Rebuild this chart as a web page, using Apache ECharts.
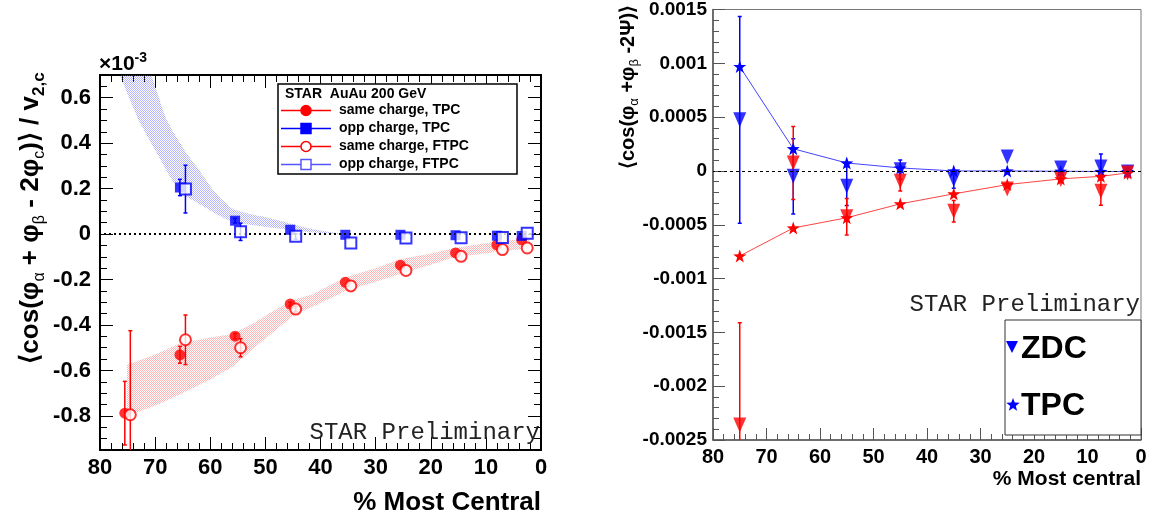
<!DOCTYPE html>
<html>
<head>
<meta charset="utf-8">
<script src="https://cdn.jsdelivr.net/npm/echarts@6/dist/echarts.min.js"></script>
<style>
html, body { margin: 0; padding: 0; background: #fff; }
#chart { width: 1153px; height: 523px; }
</style>
</head>
<body>
<div id="chart"></div>
<script>
// ---- left panel: <cos(phi_a + phi_b - 2 phi_c)> / v2,c  (x1e-3) ----
var pctTPC = [75.5, 65.5, 55.5, 45.5, 35.5, 25.5, 15.5, 8, 3.5];
var pctFTPC = [74.5, 64.5, 54.5, 44.5, 34.5, 24.5, 14.5, 7, 2.5];
var sameTPC = [-0.788, -0.531, -0.449, -0.308, -0.212, -0.137, -0.083, -0.047, -0.025];
var sameTPCErr = [0.14, 0.037, 0.012, 0.008, 0, 0, 0, 0, 0];
var oppTPC = [null, 0.205, 0.059, 0.019, -0.003, -0.003, -0.005, -0.007, -0.008];
var oppTPCErr = [null, 0.036, 0.01, 0, 0, 0, 0, 0, 0];
var sameFTPC = [-0.795, -0.465, -0.5, -0.33, -0.228, -0.16, -0.098, -0.068, -0.061];
var sameFTPCErr = [0.37, 0.109, 0.04, 0.012, 0, 0, 0, 0, 0];
var oppFTPC = [null, 0.198, 0.01, -0.01, -0.039, -0.017, -0.016, -0.015, 0.004];
var oppFTPCErr = [null, 0.105, 0.038, 0.012, 0, 0, 0, 0, 0];

// systematic bands
var redBandX = [75.1, 70, 65.7, 60, 56, 52, 48, 45, 41.4, 35.5, 30, 25.8, 20, 15.5, 10, 7.9, 2];
var redBandHi = [-0.575, -0.53, -0.482, -0.455, -0.44, -0.39, -0.33, -0.29, -0.265, -0.19, -0.15, -0.112, -0.085, -0.06, -0.04, -0.032, -0.02];
var redBandLo = [-0.8, -0.755, -0.708, -0.64, -0.585, -0.5, -0.42, -0.36, -0.32, -0.25, -0.21, -0.178, -0.135, -0.1, -0.085, -0.076, -0.065];
var blueBandHiX = [71.3, 70.6, 67.8, 64.2, 62, 59, 56, 53, 50.5, 46, 42, 38, 35];
var blueBandHi = [0.75, 0.695, 0.498, 0.353, 0.28, 0.18, 0.113, 0.09, 0.077, 0.05, 0.025, 0.008, 0.0];
var blueBandLoX = [77, 76.3, 72.9, 69.6, 67, 65, 62.5, 59, 56, 53, 50.5, 46, 42, 38, 35];
var blueBandLo = [0.75, 0.695, 0.498, 0.353, 0.24, 0.175, 0.14, 0.09, 0.055, 0.042, 0.033, 0.02, 0.008, 0.002, 0.0];

var leftYTicks = [-0.8, -0.6, -0.4, -0.2, 0, 0.2, 0.4, 0.6];

// ---- right panel: <cos(phi_a + phi_b - 2 Psi)> ----
var pctR = [75, 65, 55, 45, 35, 25, 15, 7.5, 2.5];
var tpcOpp = [0.00097, 0.000206, 0.000074, 0.000028, 0.0, 0.0, -0.000003, -0.000005, -0.000005];
var tpcSame = [-0.00079, -0.00053, -0.000435, -0.000306, -0.000213, -0.000127, -0.000074, -0.00005, -0.000019];
var zdcOpp = [0.000475, -0.00005, -0.000142, 0.000012, -0.00008, 0.00013, 0.000028, 0.000037, -0.00001];
var zdcOppErr = [0.00096, 0.00035, 0.00018, 0.00009, 0.00008, 0, 0, 0.00012, 0];
var zdcSame = [-0.00236, 0.000074, -0.000426, -0.000096, -0.000374, -0.000167, -0.00008, -0.000189, -0.00002];
var zdcSameErr = [0.00095, 0.00034, 0.00017, 0.00009, 0.0001, 0, 0, 0.00013, 0];

var rightYTicks = [-0.0025, -0.002, -0.0015, -0.001, -0.0005, 0, 0.0005, 0.001, 0.0015];

var SANS = '"Liberation Sans", Arial, sans-serif';
var MONO = '"Liberation Mono", "Courier New", monospace';
var RED = '#ff0000';
var BLUE = '#0000ff';
var STAR = 'path://M0,-10 L2.35,-3.24 L9.51,-3.09 L3.8,1.24 L5.88,8.09 L0,4 L-5.88,8.09 L-3.8,1.24 L-9.51,-3.09 L-2.35,-3.24 Z';

function pairs(xs, ys) {
    var out = [];
    xs.forEach(function (x, i) {
        if (ys[i] != null) out.push([x, ys[i]]);
    });
    return out;
}

function minorValues(lo, hi, step, majors) {
    var out = [];
    var n = Math.round((hi - lo) / step);
    for (var i = 0; i <= n; i++) {
        var v = +(lo + i * step).toFixed(6);
        if (majors.indexOf(v) < 0) out.push(v);
    }
    return out;
}

// fine zigzag hatching like the ROOT fill style
function hatch(color) {
    var c = document.createElement('canvas');
    c.width = 4;
    c.height = 4;
    var g = c.getContext('2d');
    g.fillStyle = color;
    g.fillRect(0, 0, 1, 1);
    g.fillRect(1, 1, 1, 1);
    g.fillRect(2, 0, 1, 1);
    g.fillRect(3, 1, 1, 1);
    g.fillRect(0, 2, 1, 1);
    g.fillRect(1, 3, 1, 1);
    g.fillRect(2, 2, 1, 1);
    g.fillRect(3, 3, 1, 1);
    return { image: c, repeat: 'repeat' };
}

function errorSeries(xs, ys, errs, color, xi, yi, cap) {
    var data = [];
    xs.forEach(function (x, i) {
        if (ys[i] != null && errs[i]) data.push([x, ys[i] - errs[i], ys[i] + errs[i]]);
    });
    return {
        type: 'custom',
        xAxisIndex: xi,
        yAxisIndex: yi,
        clip: true,
        silent: true,
        z: 3,
        encode: { x: 0, y: [1, 2] },
        data: data,
        renderItem: function (params, api) {
            var lo = api.coord([api.value(0), api.value(1)]);
            var hi = api.coord([api.value(0), api.value(2)]);
            var st = { stroke: color, lineWidth: 1.5 };
            return {
                type: 'group',
                children: [
                    { type: 'line', shape: { x1: lo[0], y1: lo[1], x2: hi[0], y2: hi[1] }, style: st },
                    { type: 'line', shape: { x1: lo[0] - cap, y1: lo[1], x2: lo[0] + cap, y2: lo[1] }, style: st },
                    { type: 'line', shape: { x1: hi[0] - cap, y1: hi[1], x2: hi[0] + cap, y2: hi[1] }, style: st }
                ]
            };
        }
    };
}

function bandSeries(hiX, hiY, loX, loY, fill, smooth) {
    return {
        type: 'custom',
        xAxisIndex: 0,
        yAxisIndex: 0,
        clip: true,
        silent: true,
        z: 1,
        data: [[40, 0]],
        renderItem: function (params, api) {
            var pts = [];
            hiX.forEach(function (x, i) { pts.push(api.coord([x, hiY[i]])); });
            for (var i = loX.length - 1; i >= 0; i--) pts.push(api.coord([loX[i], loY[i]]));
            return { type: 'polygon', shape: { points: pts, smooth: smooth }, style: { fill: fill } };
        }
    };
}

function starPoints(cx, cy, r) {
    var pts = [];
    for (var i = 0; i < 10; i++) {
        var a = -Math.PI / 2 + i * Math.PI / 5;
        var rr = i % 2 ? r * 0.42 : r;
        pts.push([cx + rr * Math.cos(a), cy + rr * Math.sin(a)]);
    }
    return pts;
}

function xAxisCfg(grid, pos, color, width, tickLen, minorLen, labels, font) {
    return {
        type: 'value', gridIndex: grid, position: pos, min: 0, max: 80, interval: 10, inverse: true,
        axisLine: { show: true, onZero: false, lineStyle: { color: color, width: width } },
        axisTick: { show: true, inside: true, length: tickLen, lineStyle: { color: color, width: 1 } },
        minorTick: { show: true, splitNumber: 5, length: minorLen, lineStyle: { color: color, width: 1 } },
        axisLabel: labels ? { show: true, color: '#000', fontFamily: SANS, fontWeight: 'bold', fontSize: font, margin: 7 } : { show: false },
        splitLine: { show: false }
    };
}

function yAxisCfg(grid, pos, min, max, ticks, tickLen, color, width, labels, font, margin) {
    return {
        type: 'value', gridIndex: grid, position: pos, min: min, max: max,
        axisLine: { show: width > 0, onZero: false, lineStyle: { color: color, width: width } },
        axisTick: { show: true, inside: true, length: tickLen, customValues: ticks, lineStyle: { color: color, width: 1 } },
        axisLabel: labels ? {
            show: true, customValues: ticks, color: '#000', fontFamily: SANS, fontWeight: 'bold', fontSize: font, margin: margin,
            formatter: function (v) { return String(+(+v).toFixed(5)); }
        } : { show: false },
        splitLine: { show: false }
    };
}

var leftMinor = minorValues(-0.95, 0.7, 0.05, leftYTicks);
var rightMinor = minorValues(-0.0025, 0.0015, 0.0001, rightYTicks);

var chart = echarts.init(document.getElementById('chart'), null, { renderer: 'canvas' });

var legendRows = [110.5, 128.5, 146.5, 164.5];
var legendItems = [
    { name: 'same charge, TPC', color: RED, mark: 'circle', fill: true },
    { name: 'opp charge, TPC', color: BLUE, mark: 'rect', fill: true },
    { name: 'same charge, FTPC', color: RED, mark: 'circle', fill: false },
    { name: 'opp charge, FTPC', color: '#5555ff', mark: 'rect', fill: false }
];
var graphics = [];
graphics.push({
    type: 'rect', z: 100, shape: { x: 278, y: 84, width: 239, height: 90 },
    style: { fill: '#fff', stroke: '#000', lineWidth: 1.5 }
});
graphics.push({
    type: 'text', z: 101, x: 285, y: 94,
    style: { text: 'STAR  AuAu 200 GeV', font: 'bold 14px ' + SANS, fill: '#000', textVerticalAlign: 'middle', verticalAlign: 'middle' }
});
legendItems.forEach(function (it, i) {
    var y = legendRows[i];
    graphics.push({ type: 'line', z: 101, shape: { x1: 281, y1: y, x2: 331, y2: y }, style: { stroke: it.color, lineWidth: 1.5 } });
    var ms = { fill: it.fill ? it.color : '#fff', stroke: it.color, lineWidth: 1.5 };
    if (it.mark === 'circle') {
        graphics.push({ type: 'circle', z: 102, shape: { cx: 306, cy: y, r: 5 }, style: ms });
    } else {
        graphics.push({ type: 'rect', z: 102, shape: { x: 301, y: y - 5, width: 10, height: 10 }, style: ms });
    }
    graphics.push({
        type: 'text', z: 101, x: 339, y: y,
        style: { text: it.name, font: 'bold 14px ' + SANS, fill: '#000', textVerticalAlign: 'middle', verticalAlign: 'middle' }
    });
});

// axis titles and annotations
graphics.push({
    type: 'text', z: 100, x: 31, y: 218, rotation: Math.PI / 2,
    style: {
        text: '{b|⟨cos(φ}{s|α}{b| + φ}{s|β}{b| - 2φ}{s|c}{b|)⟩ / v}{t|2,c}',
        align: 'center', verticalAlign: 'middle', textAlign: 'center', textVerticalAlign: 'middle',
        rich: {
            b: { fontFamily: SANS, fontWeight: 'bold', fontSize: 26, lineHeight: 34, fill: '#000', color: '#000' },
            s: { fontFamily: SANS, fontSize: 16, lineHeight: 16, verticalAlign: 'bottom', fill: '#000', color: '#000' },
            t: { fontFamily: SANS, fontWeight: 'bold', fontSize: 17, lineHeight: 16, verticalAlign: 'bottom', fill: '#000', color: '#000' }
        }
    }
});
graphics.push({
    type: 'text', z: 100, x: 99, y: 64,
    style: {
        text: '{b|×10}{p|-3}',
        align: 'left', verticalAlign: 'middle', textAlign: 'left', textVerticalAlign: 'middle',
        rich: {
            b: { fontFamily: SANS, fontWeight: 'bold', fontSize: 21, lineHeight: 26, fill: '#000', color: '#000' },
            p: { fontFamily: SANS, fontWeight: 'bold', fontSize: 14, lineHeight: 14, verticalAlign: 'top', fill: '#000', color: '#000' }
        }
    }
});
graphics.push({
    type: 'text', z: 100, x: 541, y: 503,
    style: { text: '% Most Central', font: 'bold 26px ' + SANS, fill: '#000', align: 'right', verticalAlign: 'middle', textAlign: 'right', textVerticalAlign: 'middle' }
});
graphics.push({
    type: 'text', z: 100, x: 540, y: 433,
    style: { text: 'STAR Preliminary', font: '24px ' + MONO, fill: '#222', align: 'right', verticalAlign: 'middle', textAlign: 'right', textVerticalAlign: 'middle' }
});
graphics.push({
    type: 'text', z: 100, x: 628, y: 87, rotation: Math.PI / 2,
    style: {
        text: '{b|⟨cos(φ}{s|α}{b| +φ}{s|β}{b| -2Ψ)⟩}',
        align: 'center', verticalAlign: 'middle', textAlign: 'center', textVerticalAlign: 'middle',
        rich: {
            b: { fontFamily: SANS, fontWeight: 'bold', fontSize: 20, lineHeight: 26, fill: '#000', color: '#000' },
            s: { fontFamily: SANS, fontSize: 13, lineHeight: 13, verticalAlign: 'bottom', fill: '#000', color: '#000' }
        }
    }
});
graphics.push({
    type: 'text', z: 100, x: 1141, y: 479,
    style: { text: '% Most central', font: 'bold 21px ' + SANS, fill: '#000', align: 'right', verticalAlign: 'middle', textAlign: 'right', textVerticalAlign: 'middle' }
});
graphics.push({
    type: 'text', z: 100, x: 1140, y: 305,
    style: { text: 'STAR Preliminary', font: '24px ' + MONO, fill: '#222', align: 'right', verticalAlign: 'middle', textAlign: 'right', textVerticalAlign: 'middle' }
});
graphics.push({
    type: 'rect', z: 100, shape: { x: 1005, y: 320, width: 136, height: 115 },
    style: { fill: '#fff', stroke: '#333', lineWidth: 1 }
});
graphics.push({
    type: 'polygon', z: 101, shape: { points: [[1006, 341], [1018, 341], [1012, 353]] }, style: { fill: BLUE }
});
graphics.push({
    type: 'polygon', z: 101, shape: { points: starPoints(1013, 405, 7) }, style: { fill: BLUE }
});
graphics.push({
    type: 'text', z: 101, x: 1021, y: 349,
    style: { text: 'ZDC', font: 'bold 32px ' + SANS, fill: '#000', verticalAlign: 'middle', textVerticalAlign: 'middle' }
});
graphics.push({
    type: 'text', z: 101, x: 1021, y: 406,
    style: { text: 'TPC', font: 'bold 32px ' + SANS, fill: '#000', verticalAlign: 'middle', textVerticalAlign: 'middle' }
});

var option = {
    animation: false,
    backgroundColor: '#fff',
    grid: [
        { left: 100, top: 75, width: 441, height: 375, show: true, borderColor: '#000', borderWidth: 2, backgroundColor: 'transparent' },
        { left: 713, top: 9, width: 428, height: 431, show: true, borderColor: '#777', borderWidth: 1, backgroundColor: 'transparent' }
    ],
    xAxis: [
        xAxisCfg(0, 'bottom', '#000', 2, 13, 7, true, 22),
        xAxisCfg(0, 'top', '#000', 2, 13, 7, false, 0),
        xAxisCfg(1, 'bottom', '#555', 1.5, 12, 6, true, 20)
    ],
    yAxis: [
        yAxisCfg(0, 'left', -0.95, 0.7, leftYTicks, 13, '#000', 2, true, 22, 9),
        yAxisCfg(0, 'left', -0.95, 0.7, leftMinor, 7, '#000', 0, false),
        yAxisCfg(0, 'right', -0.95, 0.7, leftYTicks, 13, '#000', 2, false),
        yAxisCfg(0, 'right', -0.95, 0.7, leftMinor, 7, '#000', 0, false),
        yAxisCfg(1, 'left', -0.0025, 0.0015, rightYTicks, 12, '#555', 1.5, true, 19, 6),
        yAxisCfg(1, 'left', -0.0025, 0.0015, rightMinor, 6, '#555', 0, false)
    ],
    graphic: { elements: graphics },
    series: [
        bandSeries(redBandX, redBandHi, redBandX, redBandLo, hatch('rgba(255,90,90,0.45)'), 0),
        bandSeries(blueBandHiX, blueBandHi, blueBandLoX, blueBandLo, hatch('rgba(90,90,250,0.45)'), 0.2),
        errorSeries(pctTPC, sameTPC, sameTPCErr, RED, 0, 0, 2),
        errorSeries(pctFTPC, sameFTPC, sameFTPCErr, RED, 0, 0, 2),
        errorSeries(pctTPC, oppTPC, oppTPCErr, BLUE, 0, 0, 2),
        errorSeries(pctFTPC, oppFTPC, oppFTPCErr, BLUE, 0, 0, 2),
        {
            name: 'same charge, TPC', type: 'scatter', xAxisIndex: 0, yAxisIndex: 0, z: 4,
            symbol: 'circle', symbolSize: 11, itemStyle: { color: RED },
            data: pairs(pctTPC, sameTPC),
            markLine: {
                silent: true, symbol: 'none', label: { show: false },
                lineStyle: { color: '#000', type: [2, 3], width: 2 },
                data: [{ yAxis: 0 }]
            }
        },
        {
            name: 'opp charge, TPC', type: 'scatter', xAxisIndex: 0, yAxisIndex: 0, z: 4,
            symbol: 'rect', symbolSize: 10, itemStyle: { color: BLUE },
            data: pairs(pctTPC, oppTPC)
        },
        {
            name: 'same charge, FTPC', type: 'scatter', xAxisIndex: 0, yAxisIndex: 0, z: 5,
            symbol: 'emptyCircle', symbolSize: 11, itemStyle: { color: RED, borderWidth: 1.5 },
            data: pairs(pctFTPC, sameFTPC)
        },
        {
            name: 'opp charge, FTPC', type: 'scatter', xAxisIndex: 0, yAxisIndex: 0, z: 5,
            symbol: 'emptyRect', symbolSize: 11, itemStyle: { color: BLUE, borderWidth: 1.5 },
            data: pairs(pctFTPC, oppFTPC)
        },
        errorSeries(pctR, zdcOpp, zdcOppErr, BLUE, 2, 4, 2),
        errorSeries(pctR, zdcSame, zdcSameErr, RED, 2, 4, 2),
        {
            name: 'TPC opp', type: 'line', xAxisIndex: 2, yAxisIndex: 4, z: 3,
            symbol: STAR, symbolSize: 13, showSymbol: true,
            lineStyle: { color: '#4444ff', width: 1 }, itemStyle: { color: BLUE },
            data: pairs(pctR, tpcOpp),
            markLine: {
                silent: true, symbol: 'none', label: { show: false },
                lineStyle: { color: '#000', type: [3, 3], width: 1 },
                data: [{ yAxis: 0 }]
            }
        },
        {
            name: 'TPC same', type: 'line', xAxisIndex: 2, yAxisIndex: 4, z: 3,
            symbol: STAR, symbolSize: 13, showSymbol: true,
            lineStyle: { color: '#ff4444', width: 1 }, itemStyle: { color: RED },
            data: pairs(pctR, tpcSame)
        },
        {
            name: 'ZDC opp', type: 'scatter', xAxisIndex: 2, yAxisIndex: 4, z: 4,
            symbol: 'triangle', symbolRotate: 180, symbolSize: [13, 15], itemStyle: { color: BLUE },
            data: pairs(pctR, zdcOpp)
        },
        {
            name: 'ZDC same', type: 'scatter', xAxisIndex: 2, yAxisIndex: 4, z: 4,
            symbol: 'triangle', symbolRotate: 180, symbolSize: [13, 15], itemStyle: { color: RED },
            data: pairs(pctR, zdcSame)
        }
    ]
};

chart.setOption(option);
</script>
</body>
</html>
